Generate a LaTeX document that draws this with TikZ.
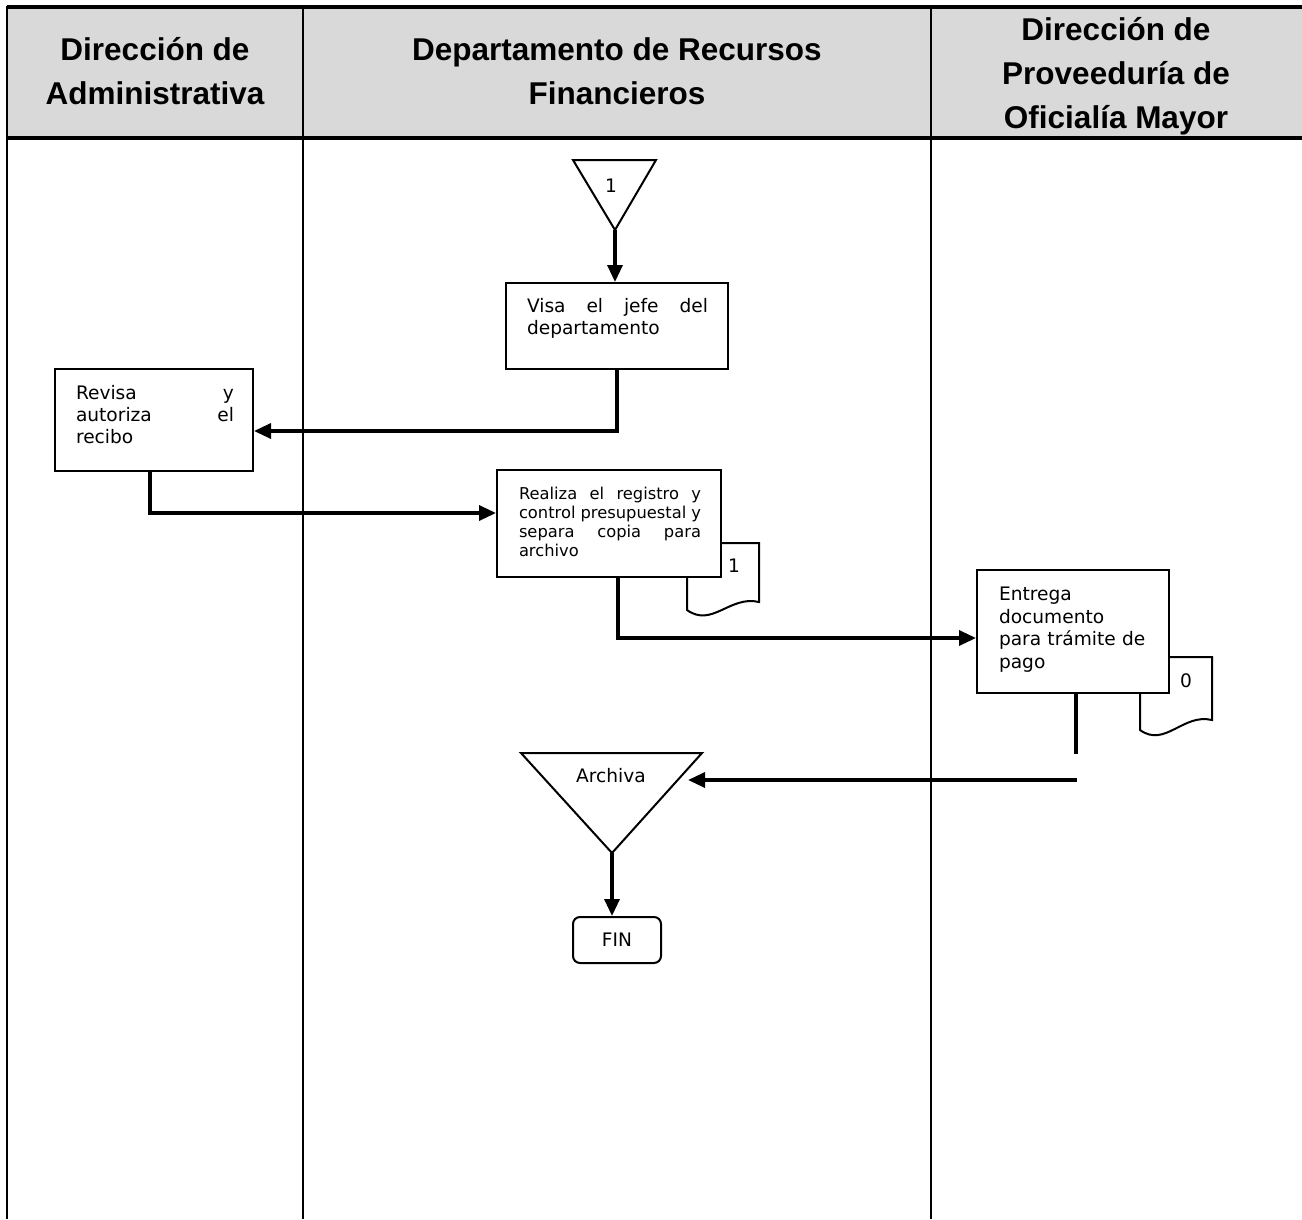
\documentclass[tikz,border=0pt]{standalone}
\usepackage{fontspec}
\newfontfamily\hdrfont{Liberation Sans}
\newfontfamily\bodyfont{DejaVu Sans}
\usetikzlibrary{positioning,arrows.meta}
\definecolor{hdrgray}{RGB}{217,217,217}
\tikzset{every picture/.style={line width=2pt}}

\begin{document}
\begin{tikzpicture}[x=1pt, y=-1pt, >={Triangle[length=17pt,width=15pt]},
        box/.style={draw, fill=white, inner sep=0pt},
        boxtext/.style={inner sep=0pt, align=justify, font=\bodyfont\fontsize{18.6}{22}\selectfont},
        hdr/.style={align=center, font=\hdrfont\bfseries\fontsize{31.5}{44}\selectfont},
        flow/.style={line width=3.3pt}]
        \useasboundingbox (0,0) rectangle (1302,1219);
        % encabezado y carriles
        \fill[hdrgray] (7,7) rectangle (1302,138);
        \draw[line width=3.4pt] (7,7) -- (1302,7);
        \draw[line width=3.4pt] (7,138) -- (1302,138);
        \draw[line width=2.8pt] (7,6) -- (7,1219);
        \draw[line width=1.8pt] (303,7) -- (303,1219);
        \draw[line width=1.8pt] (931,7) -- (931,1219);
        \node[hdr] (hadm)  at (155,71)  {Dirección de\\Administrativa};
        \node[hdr] (hrec)  at (617,71)  {Departamento de Recursos\\Financieros};
        \node[hdr] (hprov) at (1116,76) {Dirección de\\Proveeduría de\\Oficialía Mayor};
        % conector de entrada
        \coordinate (uno-apex) at (615,230);
        \draw (573,160) -- (656,160) -- (uno-apex) -- cycle;
        \node[font=\bodyfont\fontsize{18.6}{22}\selectfont] (uno) at (611,186) {1};
        % documentos (detras de las cajas)
        \draw[fill=white] (687,543) -- (759,543) -- (759,602)
            .. controls (730,595) and (712,628) .. (687,610) -- cycle;
        \node[font=\bodyfont\fontsize{18.6}{22}\selectfont] (doc1) at (734,566) {1};
        \draw[fill=white] (1140,657) -- (1212,657) -- (1212,720)
            .. controls (1183,713) and (1165,748) .. (1140,730) -- cycle;
        \node[font=\bodyfont\fontsize{18.6}{22}\selectfont] (doc0) at (1186,681) {0};
        % actividades
        \node[box, minimum width=222pt, minimum height=86pt] (visa) at (617,326) {};
        \node[boxtext, text width=181pt, below right=15pt and 21pt of visa.north west] (visatx)
            {Visa el jefe del\linebreak departamento};
        \node[box, minimum width=198pt, minimum height=102pt] (revisa) at (154,420) {};
        \node[boxtext, text width=158pt, below right=16pt and 21pt of revisa.north west] (revisatx)
            {Revisa y\linebreak autoriza el\linebreak recibo};
        \node[box, minimum width=224pt, minimum height=107pt] (realiza) at (609,523.5) {};
        \node[boxtext, text width=182pt, below right=17pt and 22pt of realiza.north west,
            font=\bodyfont\fontsize{16.3}{19}\selectfont] (realizatx)
            {Realiza el registro y\linebreak control presupuestal y\linebreak separa copia para\linebreak archivo};
        \node[box, minimum width=192pt, minimum height=123pt] (entrega) at (1073,631.5) {};
        \node[boxtext, align=left, text width=165pt, below right=17pt and 22pt of entrega.north west,
            font=\bodyfont\fontsize{18.6}{22.5}\selectfont] (entregatx)
            {Entrega\\documento\\para trámite de\\pago};
        % archivo y fin
        \coordinate (arch-apex) at (612,853);
        \draw (521,753) -- (702,753) -- (arch-apex) -- cycle;
        \node[font=\bodyfont\fontsize{18.6}{22}\selectfont] (archiva) at (611,776) {Archiva};
        \node[box, rounded corners=7pt, minimum width=88pt, minimum height=46pt,
            font=\bodyfont\fontsize{18.6}{22}\selectfont] (fin) at (617,940) {FIN};
        % flujo
        \draw[flow, ->] (uno-apex) -- (uno-apex |- visa.north);
        \draw[flow, ->] (visa.south) |- ([yshift=-11pt]revisa.east);
        \draw[flow, ->] ([xshift=-4pt]revisa.south) |- ([yshift=10.5pt]realiza.west);
        \draw[flow, ->] ([xshift=9pt]realiza.south) |- ([yshift=-6.5pt]entrega.west);
        \draw[flow] ([xshift=3pt]entrega.south) -- ++(0,60) coordinate (ent-end);
        \coordinate (ret) at (1077,780);
        \coordinate (arch-in) at (688,780);
        \draw[flow, ->] (ret) -- (arch-in);
        \draw[flow, ->] (arch-apex) -- (arch-apex |- fin.north);
    \end{tikzpicture}
\end{document}
